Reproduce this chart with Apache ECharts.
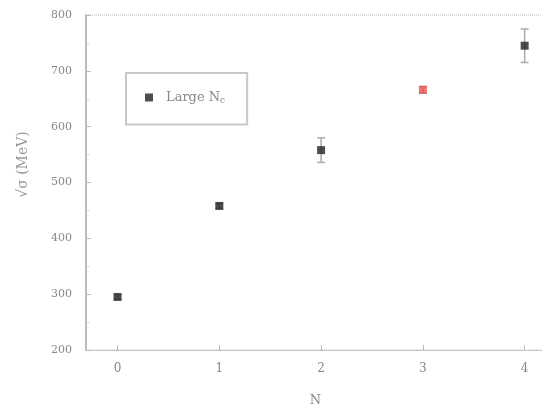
<!DOCTYPE html>
<html><head><meta charset="utf-8">
<script src="https://cdn.jsdelivr.net/npm/echarts@6/dist/echarts.min.js"></script>
<style>html,body{margin:0;padding:0;background:#fff}#c{width:542px;height:408px}</style>
</head><body><div id="c"></div>
<script>
const xTicks = [0, 1, 2, 3, 4];
const yTicks = [200, 300, 400, 500, 600, 700, 800];
const xVals = [0, 1, 2, 3, 4];
const yVals = [295, 458, 558, 666, 745];
const yErr = [4, 4, 22, 6, 30];
const colors = ['#222', '#222', '#222', '#e8524f', '#222'];

const chart = echarts.init(document.getElementById('c'));
const pts = xVals.map((x, i) => ({value: [x, yVals[i]], itemStyle: {color: colors[i]}}));
const errData = xVals.map((x, i) => [x, yVals[i] - yErr[i], yVals[i] + yErr[i]]);
chart.setOption({
  animation: false,
  grid: {left: 86, right: -3, top: 15, bottom: 58, outerBoundsMode: 'none', show: true, borderColor: '#bbb', borderType: 'dotted', borderWidth: 1},
  legend: {
    left: 126, top: 73, width: 110, padding: [18, 22, 19, 19],
    borderColor: '#c8c8c8', borderWidth: 2,
    itemWidth: 8, itemHeight: 8, itemGap: 5,
    data: [{name: 'Large N_c', icon: 'rect', itemStyle: {color: '#222'}}],
    formatter: () => 'Large N{s|c}',
    textStyle: {color: '#888', fontSize: 13, fontFamily: 'DejaVu Serif', padding: [0, 0, 0, 8], rich: {s: {fontSize: 9, verticalAlign: 'bottom', padding: [7, 0, 0, 0], color: '#888'}}}
  },
  xAxis: {
    type: 'value', min: -0.31, max: 4.2,
    name: 'N', nameLocation: 'middle', nameGap: 44,
    nameTextStyle: {color: '#888', fontSize: 13, fontFamily: 'DejaVu Serif'},
    axisLine: {lineStyle: {color: '#bbb', type: 'dotted'}},
    axisTick: {inside: true, length: 5, lineStyle: {color: '#bbb'}, customValues: xTicks},
    axisLabel: {color: '#888', fontSize: 12, fontFamily: 'DejaVu Serif', margin: 13, customValues: xTicks},
    splitLine: {show: false}
  },
  yAxis: {
    type: 'value', min: 200, max: 800, interval: 100,
    name: '√σ (MeV)', nameLocation: 'middle', nameGap: 56, nameRotate: 90,
    nameTextStyle: {color: '#999', fontSize: 14, fontFamily: 'DejaVu Serif', padding: [0, 0, 0, 36]},
    axisLine: {show: true, onZero: false, lineStyle: {color: '#bbb', width: 2}},
    axisTick: {inside: true, length: 5, lineStyle: {color: '#bbb'}},
    minorTick: {show: true, splitNumber: 2, length: 3, lineStyle: {color: '#ccc'}},
    axisLabel: {color: '#888', fontSize: 11, fontFamily: 'DejaVu Serif', margin: 14, formatter: v => String(v)},
    splitLine: {show: false}
  },
  series: [
    {
      type: 'custom', name: 'err', silent: true,
      renderItem: (params, api) => {
        const x = api.value(0);
        const lo = api.coord([x, api.value(1)]);
        const hi = api.coord([x, api.value(2)]);
        const w = 4;
        const st = {stroke: '#aaa', lineWidth: 1.5};
        return {type: 'group', children: [
          {type: 'line', shape: {x1: lo[0], y1: lo[1], x2: hi[0], y2: hi[1]}, style: st},
          {type: 'line', shape: {x1: lo[0] - w, y1: lo[1], x2: lo[0] + w, y2: lo[1]}, style: st},
          {type: 'line', shape: {x1: hi[0] - w, y1: hi[1], x2: hi[0] + w, y2: hi[1]}, style: st}
        ]};
      },
      encode: {x: 0, y: [1, 2]},
      data: errData, z: 1
    },
    {
      type: 'scatter', name: 'Large N_c', symbol: 'rect', symbolSize: 8,
      data: pts, z: 3
    }
  ]
});
</script></body></html>
